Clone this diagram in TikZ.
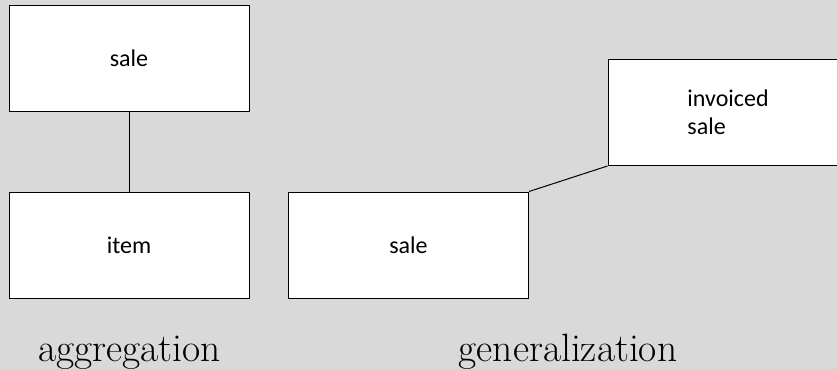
\documentclass[tikz,border=0pt]{standalone}
\usepackage{fontspec}
\newfontfamily\boxfont{Carlito}
\definecolor{bg}{HTML}{D9D9D9}
\begin{document}
\begin{tikzpicture}[x=1pt,y=-1pt,
  entity/.style={draw=black, fill=white, line width=1pt, minimum width=240pt,
    minimum height=106pt, inner sep=0pt, font=\boxfont\fontsize{24}{28}\selectfont,
    align=left},
  link/.style={draw=black, line width=1pt},
  caption/.style={font=\fontsize{39.5}{44}\selectfont, anchor=base}]
  \clip (0,0) rectangle (837,369);
  \fill[bg] (0,0) rectangle (837,369);
  % aggregation: sale -- item
  \node[entity] (agsale) at (129,58.5) {sale};
  \node[entity] (item) at (129,245) {item};
  \draw[link] (agsale.south) -- (item.north);
  % generalization: sale -- invoiced sale
  \node[entity] (gensale) at (408.5,245) {sale};
  \node[entity] (invsale) at (728,112.5) {invoiced\\sale};
  \draw[link] (gensale.north east) -- (invsale.south west);
  % captions
  \node[caption] (aggcap) at (129.5,361) {aggregation};
  \node[caption] (gencap) at (568,361) {generalization};
\end{tikzpicture}
\end{document}
